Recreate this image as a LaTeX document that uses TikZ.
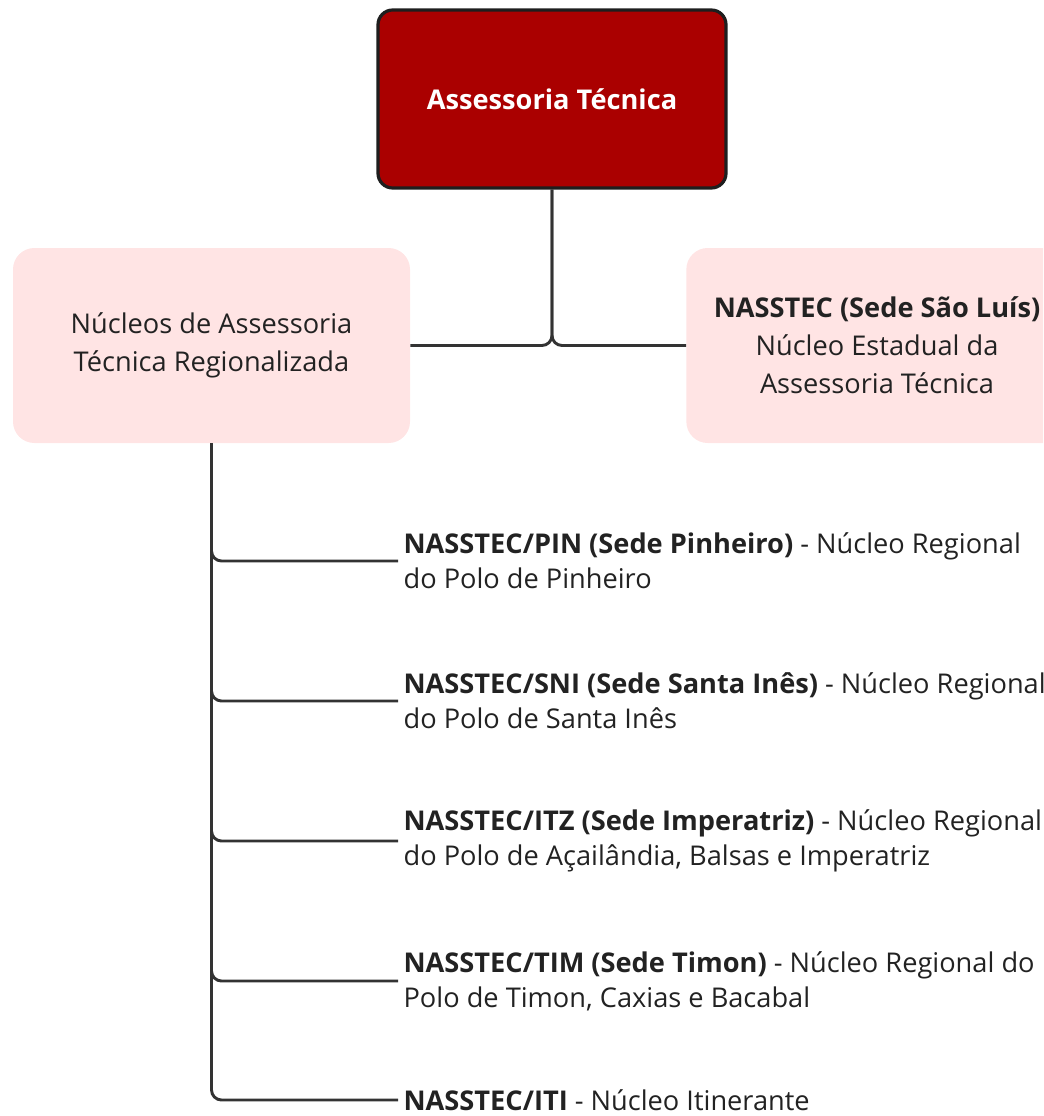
\documentclass[tikz,border=0pt]{standalone}
\usepackage{fontspec}
\setmainfont{Open Sans}
\usetikzlibrary{calc}
\definecolor{chefe}{HTML}{AA0000}
\definecolor{borda}{HTML}{1E1E1E}
\definecolor{rosa}{HTML}{FFE4E4}
\definecolor{linha}{HTML}{333333}
\definecolor{texto}{HTML}{222222}
\tikzset{
  topo/.style={draw=borda,line width=2.4pt,fill=chefe,rounded corners=11pt,text=white,
    font=\fontsize{20.4}{28.5}\selectfont\bfseries,minimum width=261pt,minimum height=133.5pt},
  nucleo/.style={fill=rosa,rounded corners=16pt,text=texto,align=center,
    font=\fontsize{20.4}{28.5}\selectfont,minimum width=297.75pt,minimum height=146.25pt},
  folha/.style={anchor=west,inner xsep=4pt,inner ysep=0pt,align=left,text=texto,
    font=\fontsize{20.4}{26.25}\selectfont},
  liga/.style={draw=linha,line width=2.2pt,rounded corners=7.5pt}
}
\begin{document}
\begin{tikzpicture}[x=0.75pt,y=-0.75pt]
                \useasboundingbox(0,0)rectangle(1043,1116);
                \clip(0,0)rectangle(1043,1116);
                \coordinate(T)at(552,99);
                \coordinate(E)at(211.5,345.5);
                \coordinate(D)at(877,345.5);
                \node[topo](top)at(T){Assessoria Técnica};
                \node[nucleo](esq)at(E){Núcleos de Assessoria\\Técnica Regionalizada};
                \node[nucleo,minimum width=286pt](dir)at(D){\bfseries NASSTEC (Sede São Luís)\\Núcleo Estadual da\\Assessoria Técnica};
                \node[folha](pin)at(398,561){\textbf{NASSTEC/PIN (Sede Pinheiro)} - Núcleo Regional\\do Polo de Pinheiro};
                \node[folha](sni)at(398,701){\textbf{NASSTEC/SNI (Sede Santa Inês)} - Núcleo Regional\\do Polo de Santa Inês};
                \node[folha](itz)at(398,841){\textbf{NASSTEC/ITZ (Sede Imperatriz)} - Núcleo Regional\\do Polo de Açailândia, Balsas e Imperatriz};
                \node[folha](tim)at(398,981){\textbf{NASSTEC/TIM (Sede Timon)} - Núcleo Regional do\\Polo de Timon, Caxias e Bacabal};
                \node[folha](iti)at(398,1100){\textbf{NASSTEC/ITI} - Núcleo Itinerante};
                \draw[liga](top.south)|-(esq.east);
                \draw[liga](top.south)|-(dir.west);
                \foreach \f in {pin,sni,itz,tim,iti}
                    \draw[liga](esq.south)|-(\f.west);
            \end{tikzpicture}
\end{document}
